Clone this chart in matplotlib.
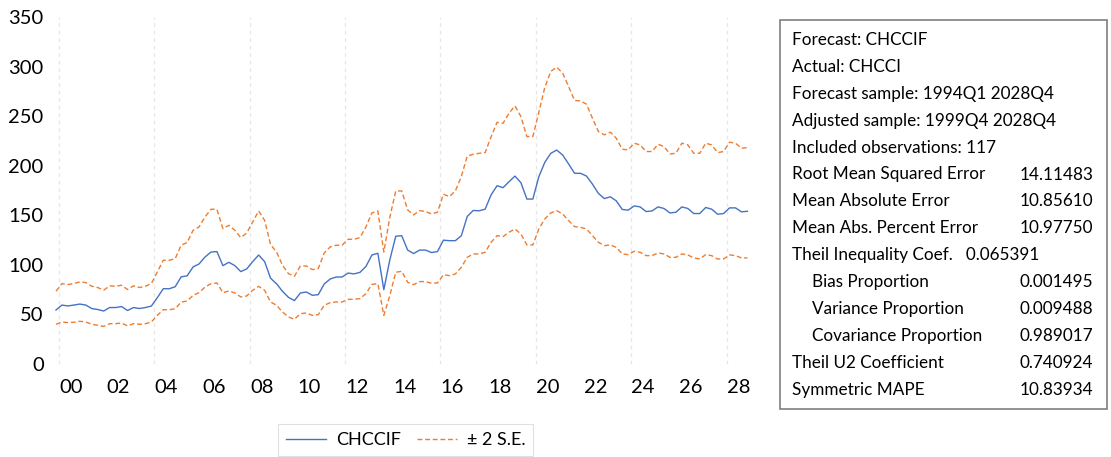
import numpy as np
import matplotlib.pyplot as plt
from matplotlib.patches import Rectangle
from matplotlib.lines import Line2D

# quarterly forecast, 1999Q4 .. 2028Q4
chccif = [
    54.5, 59.5, 58.6, 59.5, 60.5, 59.5, 56.0, 55.0, 53.5, 57.0,
    57.0, 58.0, 54.0, 57.0, 56.0, 57.0, 58.5, 67.0, 76.0, 76.0,
    78.0, 88.0, 89.0, 98.0, 101.0, 108.0, 113.0, 113.5, 99.3, 102.7,
    99.3, 93.3, 96.0, 103.4, 110.0, 103.4, 86.6, 81.0, 73.4, 67.3,
    64.0, 71.7, 72.7, 69.4, 70.0, 80.8, 85.8, 87.8, 87.8, 91.8,
    91.0, 92.5, 98.5, 110.0, 111.8, 75.0, 105.0, 129.0, 129.5, 115.0,
    111.5, 115.0, 115.0, 112.5, 113.5, 125.0, 124.5, 124.5, 129.5, 149.0,
    155.0, 154.7, 156.3, 170.8, 180.0, 178.0, 184.0, 189.7, 183.0, 166.5,
    166.5, 189.0, 203.5, 212.6, 216.0, 211.0, 202.0, 192.5, 192.5, 189.7,
    181.6, 172.2, 167.0, 168.8, 164.7, 156.0, 155.3, 159.6, 158.6, 153.9,
    154.5, 158.6, 157.0, 152.5, 153.2, 158.6, 157.0, 151.9, 151.9, 158.0,
    156.3, 151.2, 151.9, 157.6, 157.6, 153.6, 154.2,
]

upper = [
    73.5, 81.2, 80.2, 81.2, 82.9, 82.2, 78.5, 77.2, 74.5, 78.9,
    78.5, 79.5, 75.2, 78.9, 77.2, 78.5, 81.2, 93.0, 104.7, 104.7,
    106.4, 119.9, 122.6, 135.0, 138.4, 148.5, 156.2, 156.2, 136.7, 140.0,
    135.0, 127.6, 132.3, 143.4, 154.5, 145.0, 120.5, 113.1, 99.7, 91.2,
    88.6, 99.0, 99.0, 95.3, 96.3, 112.1, 118.2, 119.9, 119.9, 125.9,
    125.9, 127.6, 138.4, 152.5, 154.5, 113.0, 148.0, 174.7, 174.7, 155.6,
    150.5, 154.9, 153.9, 151.5, 153.2, 171.4, 169.0, 174.7, 189.2, 210.0,
    211.7, 212.7, 213.4, 229.6, 244.0, 243.0, 253.2, 260.6, 249.8, 229.6,
    229.6, 253.9, 279.1, 295.3, 299.7, 293.6, 280.1, 266.0, 265.6, 262.3,
    248.1, 234.7, 231.3, 234.0, 227.9, 216.8, 216.2, 222.9, 221.2, 214.5,
    214.5, 221.9, 219.5, 212.1, 212.7, 222.9, 221.2, 212.7, 212.7, 222.9,
    221.2, 213.4, 214.5, 223.9, 222.9, 217.8, 218.5,
]

lower = [
    40.1, 42.4, 41.8, 42.1, 43.1, 42.4, 40.1, 39.1, 38.0, 40.7,
    40.7, 41.4, 38.4, 40.7, 40.1, 40.7, 42.4, 49.1, 54.8, 54.8,
    55.8, 62.6, 63.6, 69.3, 72.0, 77.7, 81.1, 81.8, 72.0, 73.7,
    71.7, 67.7, 68.7, 74.4, 78.4, 74.4, 62.6, 59.3, 52.5, 47.5,
    45.1, 50.8, 51.5, 49.1, 49.8, 59.3, 61.9, 62.6, 62.6, 65.3,
    65.3, 66.0, 71.0, 80.4, 81.1, 49.1, 69.0, 92.6, 93.6, 82.5,
    80.1, 83.2, 83.2, 81.5, 81.8, 90.2, 89.2, 90.9, 97.6, 107.7,
    111.1, 111.1, 112.8, 122.9, 129.6, 128.6, 133.0, 136.3, 131.3, 120.2,
    120.2, 136.3, 146.4, 152.5, 154.8, 151.5, 144.8, 138.7, 138.0, 136.3,
    129.6, 122.9, 119.5, 120.2, 117.8, 111.1, 110.4, 113.8, 112.8, 109.4,
    109.4, 112.1, 111.1, 107.7, 107.7, 111.1, 110.1, 107.1, 106.0, 110.4,
    109.4, 106.0, 106.0, 110.1, 109.4, 107.1, 107.1,
]

first_year, first_q = 1999, 4
label_years = list(range(2000, 2029, 2))
y_ticks = [0, 50, 100, 150, 200, 250, 300, 350]

stats_rows = [
    ("Forecast: CHCCIF", "", 0),
    ("Actual: CHCCI", "", 0),
    ("Forecast sample: 1994Q1 2028Q4", "", 0),
    ("Adjusted sample: 1999Q4 2028Q4", "", 0),
    ("Included observations: 117", "", 0),
    ("Root Mean Squared Error", "14.11483", 0),
    ("Mean Absolute Error", "10.85610", 0),
    ("Mean Abs. Percent Error", "10.97750", 0),
    ("Theil Inequality Coef.   0.065391", "", 0),
    ("Bias Proportion", "0.001495", 1),
    ("Variance Proportion", "0.009488", 1),
    ("Covariance Proportion", "0.989017", 1),
    ("Theil U2 Coefficient", "0.740924", 0),
    ("Symmetric MAPE", "10.83934", 0),
]

BLUE = "#4472C4"
ORANGE = "#ED7D31"
FONT = ["Lato", "DejaVu Sans"]

plt.rcParams["font.family"] = FONT

W, H = 1111, 457
fig = plt.figure(figsize=(W / 100, H / 100), dpi=100)
fig.patch.set_facecolor("white")

# axes placed in pixel terms
ax_left, ax_right = 52, 751
ax_top, ax_bottom = 17.3, 364
ax = fig.add_axes([ax_left / W, 1 - ax_bottom / H,
                   (ax_right - ax_left) / W, (ax_bottom - ax_top) / H])

n = len(chccif)
t = np.arange(n)
ax.plot(t, upper, color=ORANGE, lw=1.0, ls=(0, (3.5, 2.0)))
ax.plot(t, lower, color=ORANGE, lw=1.0, ls=(0, (3.5, 2.0)))
ax.plot(t, chccif, color=BLUE, lw=1.0)

ax.set_xlim(-0.67, 116.6)
ax.set_ylim(0, 350)

# year boundaries every four years, labels centred on each year
start_idx = lambda yr: (yr - first_year) * 4 + (1 - first_q)
grid_pos = [start_idx(y) - 0.5 for y in range(2000, 2029, 4)]
for g in grid_pos:
    ax.axvline(g, color="#e6e6e6", lw=0.9, ls=(0, (3, 3)), zorder=0)

ax.set_xticks([start_idx(y) + 1.5 for y in label_years])
ax.set_xticklabels([f"{y % 100:02d}" for y in label_years])
ax.set_yticks(y_ticks)
ax.set_yticklabels([str(v) for v in y_ticks])
ax.tick_params(axis="both", length=0, labelsize=14.5, colors="black")
ax.tick_params(axis="x", pad=11)
ax.tick_params(axis="y", pad=6)
for s in ax.spines.values():
    s.set_visible(False)

# legend
handles = [Line2D([], [], color=BLUE, lw=1.0),
           Line2D([], [], color=ORANGE, lw=1.0, ls=(0, (3.5, 2.0)))]
leg = fig.legend(handles, ["CHCCIF", "\u00b1 2 S.E."], ncol=2,
                 loc="upper left", bbox_to_anchor=(278 / W, 1 - 424 / H),
                 fontsize=13, frameon=True, fancybox=False,
                 handlelength=2.2, columnspacing=0.9, borderpad=0.45,
                 handletextpad=0.55, borderaxespad=0)
leg.get_frame().set_edgecolor("#d9d9d9")
leg.get_frame().set_linewidth(0.8)

# statistics box
bx0, by0, bx1, by1 = 780, 20, 1107, 409
fig.add_artist(Rectangle((bx0 / W, 1 - by1 / H), (bx1 - bx0) / W,
                         (by1 - by0) / H, transform=fig.transFigure,
                         fill=False, edgecolor="#7f7f7f", lw=1.2))
row_y0, row_step = 40, 26.9
for k, (label, value, indent) in enumerate(stats_rows):
    yy = 1 - (row_y0 + k * row_step) / H
    fig.text((792 + 20 * indent) / W, yy, label, fontsize=12.3,
             va="center", ha="left")
    if value:
        fig.text(1093 / W, yy, value, fontsize=12.3, va="center", ha="right")

fig.savefig("out.png", dpi=100)
